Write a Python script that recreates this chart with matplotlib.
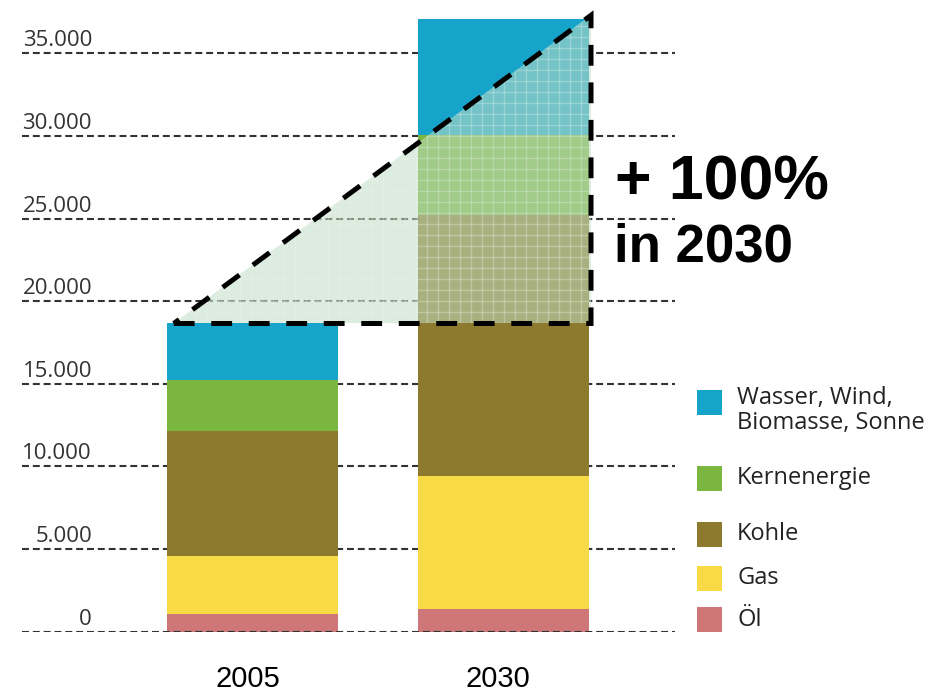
import numpy as np
import matplotlib
matplotlib.use("Agg")
import matplotlib.pyplot as plt
from matplotlib.patches import Polygon, Rectangle
from matplotlib.collections import LineCollection

# --- data -------------------------------------------------------------
years = ["2005", "2030"]
sources = ["Öl", "Gas", "Kohle", "Kernenergie", "Wasser, Wind,\nBiomasse, Sonne"]
values_2005 = [1100, 3500, 7550, 3100, 3400]
values_2030 = [1400, 8000, 15800, 4850, 7000]
colors = ["#cf7678", "#f7da46", "#8e7a2f", "#7ab640", "#17a4cb"]
y_ticks = [0, 5000, 10000, 15000, 20000, 25000, 30000, 35000]
growth_label = "+ 100%"
growth_year = "in 2030"

W, H = 946, 694
fig = plt.figure(figsize=(W / 100, H / 100), dpi=100)


def fx(px):
    return px / W


def fy(py):
    return 1 - py / H


# axes spans the dashed grid area; y=0 sits at the lowest grid line
ax_left, ax_right, y0_px, px_per_5000 = 22, 675, 631.7, 82.63
ax = fig.add_axes([fx(ax_left), fy(y0_px), fx(ax_right - ax_left), y0_px / H])
ax.set_ylim(0, y0_px / px_per_5000 * 5000)
unit_px = 250.5
ax.set_xlim(-(252.5 - ax_left) / unit_px, 1 + (ax_right - 503) / unit_px)
ax.axis("off")

# dashed horizontal grid
grid_lw = 1.5
grid_ls = (0, (5.0 / grid_lw, 2.8 / grid_lw))
for v in y_ticks:
    ax.axhline(v, color="#333333", lw=grid_lw, ls=grid_ls,
               zorder=3 if v == 0 else 1)
    ax.annotate(f"{v:,}".replace(",", "."), xy=(0.1072, v),
                xycoords=ax.get_yaxis_transform(), xytext=(0, 5),
                textcoords="offset points", ha="right", va="baseline",
                fontsize=16, family="Open Sans", color="#333333")

# stacked bars
x = np.arange(len(years))
bar_w = 171 / unit_px
stack = np.array([values_2005, values_2030], dtype=float)
bottoms = np.zeros(len(years))
for i, (src, col) in enumerate(zip(sources, colors)):
    ax.bar(x, stack[:, i], bar_w, bottom=bottoms, color=col, lw=0, zorder=2)
    bottoms += stack[:, i]

for xi, yr in zip(x, years):
    ax.annotate(yr, xy=(xi, 0), xytext=(-3.6, -39.6), textcoords="offset points",
                ha="center", va="baseline", fontsize=21,
                family="Liberation Sans", color="black")

# growth triangle: from the 2005 total up to double that value
total_2005 = stack[0].sum()
x_start = x[0] - bar_w / 2 + 0.027
x_end = x[1] + bar_w / 2 + 0.01
tri = [(x_start, total_2005), (x_end, total_2005), (x_end, 2 * total_2005)]

fill = Polygon(tri, closed=True, facecolor=(192 / 255, 222 / 255, 196 / 255),
               alpha=0.55, edgecolor="none", zorder=4)
ax.add_patch(fill)

# fine light grid texture inside the triangle
step_x = 11 / unit_px
step_y = 11 / px_per_5000 * 5000
segs = []
for gx in np.arange(x_start, x_end, step_x):
    segs.append([(gx, total_2005), (gx, 2 * total_2005)])
for gy in np.arange(total_2005, 2 * total_2005, step_y):
    segs.append([(x_start, gy), (x_end, gy)])
lc = LineCollection(segs, colors="#eef7ee", linewidths=1.0, alpha=0.3, zorder=5)
ax.add_collection(lc)
lc.set_clip_path(fill)

outline = Polygon(tri, closed=True, fill=False, edgecolor="black", lw=3.6,
                  ls=(0, (15 / 3.6, 12 / 3.6)), joinstyle="miter",
                  capstyle="butt", zorder=6)
ax.add_patch(outline)

# growth annotation
fig.text(fx(615), fy(200), growth_label, fontsize=45, fontweight="bold",
         family="Liberation Sans", ha="left", va="baseline", color="black")
fig.text(fx(614), fy(262), growth_year, fontsize=38, fontweight="bold",
         family="Liberation Sans", ha="left", va="baseline", color="black")

# legend, top entry first
row_tops = [390, 466, 522, 566, 607]
sq = 25
for top, src, col in zip(row_tops, sources[::-1], colors[::-1]):
    fig.add_artist(Rectangle((fx(697), fy(top + sq)), sq / W, sq / H,
                             transform=fig.transFigure, facecolor=col,
                             edgecolor="none"))
    if "\n" in src:
        fig.text(fx(737), fy(top - 4), src, fontsize=17, family="Open Sans",
                 color="#222222", ha="left", va="top", linespacing=1.08)
    else:
        fig.text(fx(737), fy(top + sq / 2), src, fontsize=17,
                 family="Open Sans", color="#222222", ha="left", va="center")

fig.savefig("out.png", dpi=100)
